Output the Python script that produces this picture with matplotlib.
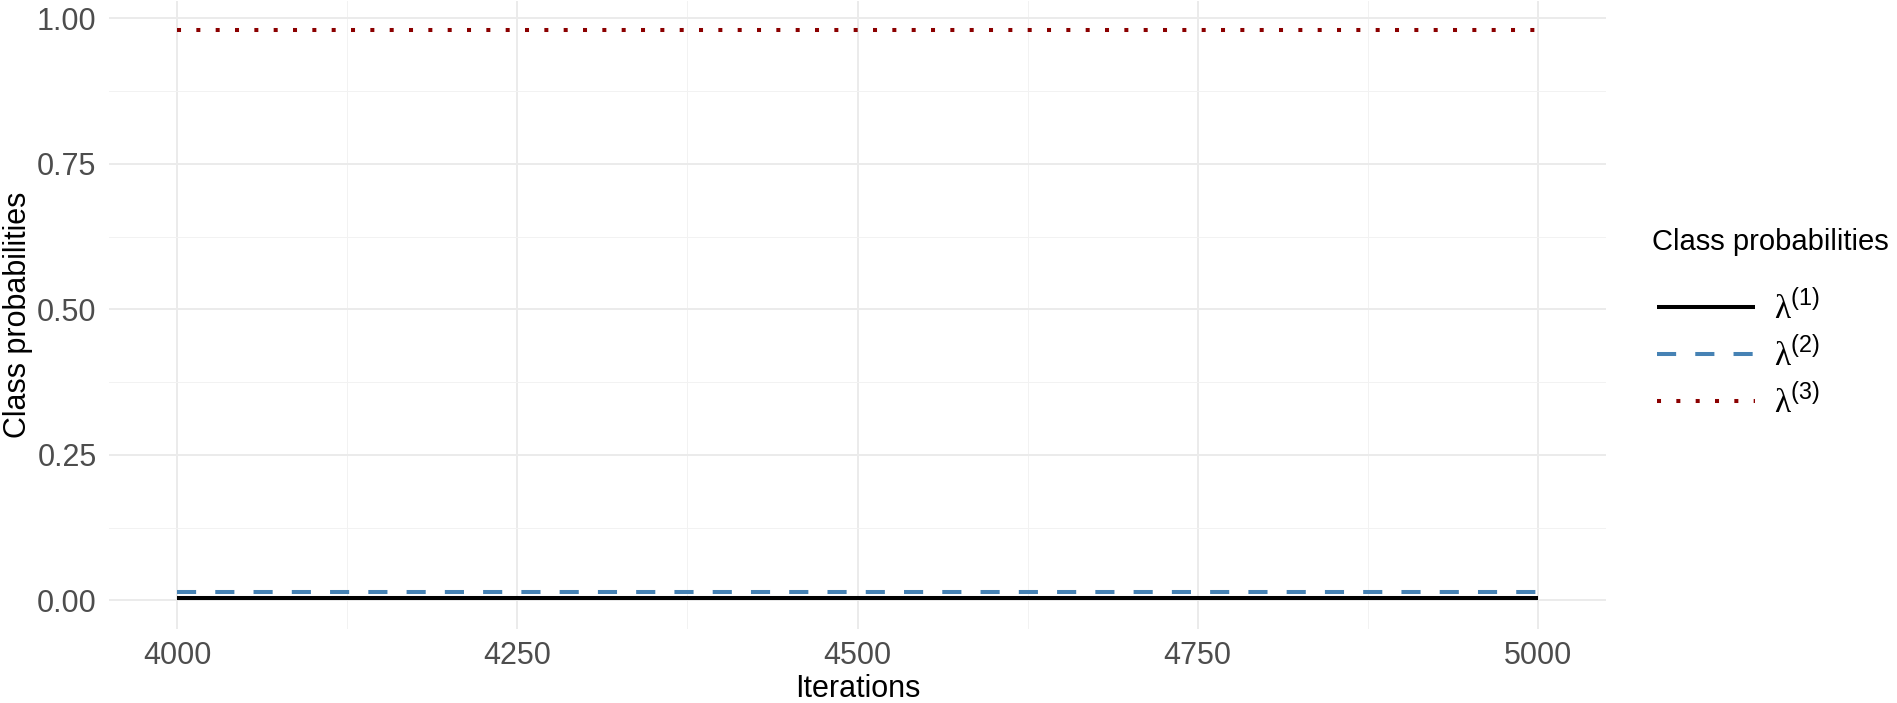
import numpy as np
import matplotlib.pyplot as plt

plt.rcParams['font.family'] = ['Liberation Sans', 'DejaVu Sans']
plt.rcParams['mathtext.fontset'] = 'custom'
plt.rcParams['mathtext.rm'] = 'Liberation Serif'
plt.rcParams['mathtext.sf'] = 'Liberation Sans'

# data (chains are flat over the window)
iterations = [4000, 4250, 4500, 4750, 5000]
lam1 = [0.004, 0.004, 0.004, 0.004, 0.004]
lam2 = [0.015, 0.015, 0.015, 0.015, 0.015]
lam3 = [0.981, 0.981, 0.981, 0.981, 0.981]
labels = [r"$\mathrm{\lambda}^{\mathsf{(1)}}$",
          r"$\mathrm{\lambda}^{\mathsf{(2)}}$",
          r"$\mathrm{\lambda}^{\mathsf{(3)}}$"]

W, H = 1897, 703
fig = plt.figure(figsize=(W / 100, H / 100), dpi=100)
ax = fig.add_axes([0.0575, 0.1053, 0.7891, 0.8933])

lw = 2.9
ax.plot(iterations, lam1, color="black", lw=lw, solid_capstyle="butt", label=labels[0])
ax.plot(iterations, lam2, color="#4682B4", lw=lw, dashes=(4.75, 4.75),
        dash_capstyle="butt", label=labels[1])
ax.plot(iterations, lam3, color="#8B0000", lw=lw, dashes=(1, 3.8),
        dash_capstyle="butt", label=labels[2])

ax.set_xlim(3950, 5050)
ax.set_ylim(-0.049, 1.03)
ax.set_xticks([4000, 4250, 4500, 4750, 5000])
ax.set_xticks([4125, 4375, 4625, 4875], minor=True)
ax.set_yticks([0, 0.25, 0.5, 0.75, 1.0])
ax.set_yticklabels(["0.00", "0.25", "0.50", "0.75", "1.00"])
ax.set_yticks([0.125, 0.375, 0.625, 0.875], minor=True)

ax.grid(which="major", color="#EBEBEB", lw=1.4)
ax.grid(which="minor", color="#F2F2F2", lw=0.7)
ax.set_axisbelow(True)
for s in ax.spines.values():
    s.set_visible(False)
ax.tick_params(which="both", length=0, labelsize=22, labelcolor="#4D4D4D", pad=9)

ax.set_xlabel("Iterations", fontsize=22, va="center")
ax.xaxis.set_label_coords(0.5, -0.096)
ax.set_ylabel("Class probabilities", fontsize=22, va="center")
ax.yaxis.set_label_coords(-0.061, 0.5)

fig.text(1652 / W, 1 - 242 / H, "Class probabilities", fontsize=21,
         ha="left", va="center")
leg = fig.legend(loc="upper left", bbox_to_anchor=(1657 / W, 1 - 289 / H),
                 frameon=False, fontsize=24, handlelength=2.94,
                 handletextpad=0.58, labelspacing=0.32, borderpad=0,
                 borderaxespad=0)

fig.savefig("out.png", dpi=100)
